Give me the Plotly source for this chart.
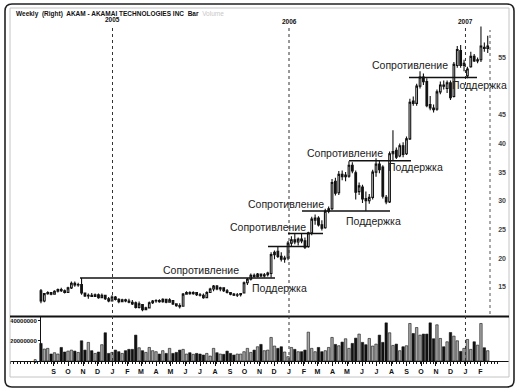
import plotly.graph_objects as go
import pandas as pd

# ---------------- data ----------------
first_week = "2004-08-06"

opens = [14.3, 12.5, 13.8, 14.0, 13.7, 14.2, 14.5, 14.3, 14.0, 14.8,
         15.6, 15.3, 15.4, 13.9, 13.4, 13.5, 13.3, 13.6, 13.1, 13.5,
         12.9, 12.5, 13.2, 12.8, 12.4, 12.7, 12.5, 12.3, 12.2, 11.4,
         11.9, 11.0, 11.3, 12.2, 12.5, 12.6, 12.4, 12.8, 12.3, 12.6,
         12.0, 11.7, 11.6, 13.7, 14.0, 13.8, 14.0, 13.6, 13.5, 13.1,
         14.0, 14.6, 15.1, 14.6, 14.8, 14.3, 14.0, 13.7, 13.5, 13.6,
         13.9, 15.7, 16.3, 17.0, 16.8, 17.2, 16.9, 17.1, 17.3, 20.6,
         21.2, 20.3, 19.8, 20.0, 22.6, 23.2, 22.8, 23.3, 23.0, 22.0,
         24.4, 26.6, 27.0, 25.8, 25.3, 28.2, 28.6, 33.4, 31.4, 34.6,
         34.2, 34.3, 36.2, 34.9, 31.6, 32.4, 30.4, 30.0, 30.6, 35.0,
         36.4, 35.9, 30.6, 29.8, 38.2, 38.8, 37.8, 39.6, 38.2, 40.8,
         47.4, 47.0, 50.0, 51.6, 50.8, 46.8, 46.2, 46.0, 49.0, 50.2,
         49.6, 50.6, 48.2, 53.6, 56.2, 53.6, 51.8, 53.4, 55.2, 54.4,
         54.6, 56.8, 56.6]
highs = [14.6, 13.9, 14.2, 14.1, 14.4, 14.7, 14.8, 14.5, 15.0, 15.9,
         15.9, 15.7, 16.5, 14.0, 13.8, 13.9, 13.8, 13.8, 13.8, 13.6,
         13.2, 13.5, 13.4, 13.0, 12.9, 12.9, 12.9, 12.7, 12.4, 12.4,
         12.0, 11.5, 12.4, 12.7, 12.8, 12.8, 13.0, 12.9, 13.0, 12.7,
         12.1, 12.1, 13.9, 14.2, 14.2, 14.2, 14.1, 13.9, 13.8, 14.2,
         14.8, 15.3, 15.3, 15.0, 14.9, 14.6, 14.1, 13.9, 13.9, 13.9,
         15.9, 16.5, 17.3, 17.3, 17.4, 17.3, 17.4, 17.6, 21.0, 21.3,
         22.0, 21.0, 20.4, 23.0, 23.8, 24.3, 23.6, 24.2, 23.6, 24.6,
         27.2, 27.6, 27.3, 26.6, 28.6, 29.0, 33.8, 34.0, 35.2, 35.3,
         35.0, 36.9, 36.7, 35.3, 33.2, 32.8, 31.6, 31.2, 35.4, 37.4,
         37.0, 36.2, 31.0, 38.6, 42.3, 39.3, 40.0, 40.2, 41.2, 47.8,
         48.2, 50.4, 52.6, 52.2, 51.4, 48.3, 46.8, 49.4, 50.8, 51.0,
         51.0, 51.0, 54.2, 57.0, 57.2, 54.6, 53.4, 56.0, 55.6, 55.0,
         60.4, 57.6, 58.8]
lows = [12.1, 12.3, 13.6, 13.5, 13.6, 14.0, 14.1, 13.8, 13.9, 14.6,
        15.0, 15.0, 13.6, 13.2, 12.9, 13.2, 13.2, 12.9, 13.0, 12.7,
        12.3, 12.5, 12.6, 12.1, 12.3, 12.3, 12.1, 11.8, 11.2, 11.2,
        10.7, 10.9, 11.2, 12.0, 12.2, 12.2, 12.2, 12.1, 12.2, 11.8,
        11.5, 11.2, 11.6, 13.6, 13.6, 13.6, 13.4, 13.3, 12.9, 13.0,
        13.9, 14.2, 14.4, 14.2, 14.1, 13.8, 13.5, 13.4, 13.2, 13.3,
        13.8, 15.3, 16.1, 16.6, 16.6, 16.7, 16.6, 16.8, 16.6, 19.8,
        20.0, 19.4, 19.2, 19.6, 22.0, 22.4, 22.2, 22.6, 21.6, 21.8,
        24.0, 25.8, 25.5, 24.8, 25.1, 27.8, 28.4, 30.9, 31.0, 33.6,
        33.4, 34.0, 34.8, 30.2, 31.0, 29.6, 28.2, 29.5, 30.2, 34.2,
        34.8, 30.4, 29.4, 29.6, 37.0, 37.3, 37.6, 37.6, 38.0, 40.6,
        46.6, 46.6, 49.6, 50.2, 46.3, 45.8, 45.4, 45.7, 48.6, 49.4,
        48.8, 47.6, 48.0, 53.2, 53.2, 52.6, 51.4, 53.2, 54.2, 54.0,
        54.2, 56.0, 55.8]
closes = [12.5, 13.8, 14.0, 13.7, 14.2, 14.5, 14.3, 14.0, 14.8, 15.6,
          15.3, 15.4, 13.9, 13.4, 13.5, 13.3, 13.6, 13.1, 13.5, 12.9,
          12.5, 13.2, 12.8, 12.4, 12.7, 12.5, 12.3, 12.0, 11.4, 12.0,
          11.0, 11.3, 12.2, 12.5, 12.6, 12.4, 12.8, 12.3, 12.7, 12.0,
          11.7, 11.5, 13.7, 14.0, 13.8, 14.0, 13.6, 13.5, 13.1, 14.0,
          14.6, 15.1, 14.6, 14.8, 14.3, 14.0, 13.7, 13.5, 13.6, 13.8,
          15.7, 16.3, 17.0, 16.8, 17.2, 16.9, 17.1, 17.4, 20.6, 21.0,
          20.3, 19.8, 20.0, 22.6, 23.2, 22.8, 23.3, 23.0, 21.9, 24.4,
          26.8, 27.0, 25.8, 25.2, 28.2, 28.6, 33.2, 31.3, 34.6, 34.2,
          34.5, 36.2, 35.2, 31.5, 32.6, 30.3, 30.0, 30.6, 35.0, 36.4,
          35.4, 30.8, 29.8, 38.2, 38.6, 37.6, 39.6, 38.1, 40.8, 47.2,
          47.0, 50.0, 51.6, 50.8, 46.6, 46.2, 45.9, 49.0, 50.2, 50.0,
          50.6, 48.0, 53.8, 56.4, 53.6, 54.0, 53.0, 55.2, 54.4, 54.6,
          57.0, 56.6, 57.0]
volume_millions = [17.4, 11.8, 12.5, 6.9, 8.2, 6.9, 13.4, 8.9, 9.8, 10.8,
                   9.8, 8.5, 20.0, 10.8, 18.4, 10.2, 7.5, 8.9, 16.1, 27.9,
                   7.5, 8.5, 10.8, 9.2, 7.5, 10.2, 11.5, 11.5, 25.6, 13.1,
                   10.2, 8.5, 13.4, 10.2, 9.2, 6.9, 10.2, 7.5, 12.5, 7.5,
                   8.5, 10.8, 11.5, 6.9, 8.2, 6.6, 7.5, 6.9, 5.9, 7.5,
                   4.9, 12.5, 8.2, 6.9, 6.6, 9.8, 7.5, 5.9, 6.9, 6.9,
                   9.2, 12.5, 8.5, 10.8, 14.1, 16.4, 10.2, 10.8, 23.3, 14.8,
                   12.5, 14.1, 8.9, 4.3, 13.4, 11.5, 9.2, 9.2, 10.8, 28.5,
                   12.5, 9.2, 13.4, 9.2, 10.2, 13.4, 23.3, 16.4, 15.1, 18.7,
                   22.0, 12.5, 17.4, 22.6, 26.6, 18.4, 16.1, 22.3, 14.8, 16.7,
                   25.6, 18.4, 37.7, 27.9, 15.4, 16.7, 10.2, 14.1, 15.1, 37.1,
                   27.2, 33.1, 25.6, 26.6, 26.6, 37.7, 22.0, 35.8, 22.3, 14.1,
                   19.0, 28.2, 24.6, 20.0, 9.5, 12.5, 21.3, 11.5, 19.0, 15.7,
                   37.1, 13.1, 10.2]

month_ticks = ["2004-09-01", "2004-10-01", "2004-11-01", "2004-12-01",
               "2005-01-01", "2005-02-01", "2005-03-01", "2005-04-01",
               "2005-05-01", "2005-06-01", "2005-07-01", "2005-08-01",
               "2005-09-01", "2005-10-01", "2005-11-01", "2005-12-01",
               "2006-01-01", "2006-02-01", "2006-03-01", "2006-04-01",
               "2006-05-01", "2006-06-01", "2006-07-01", "2006-08-01",
               "2006-09-01", "2006-10-01", "2006-11-01", "2006-12-01",
               "2007-01-01", "2007-02-01"]
month_labels = ["S", "O", "N", "D", "J", "F", "M", "A", "M", "J", "J", "A",
                "S", "O", "N", "D", "J", "F", "M", "A", "M", "J", "J", "A",
                "S", "O", "N", "D", "J", "F"]
year_dates = ["2005-01-01", "2006-01-01", "2007-01-01"]
year_labels = ["2005", "2006", "2007"]

price_ticks = [15, 20, 25, 30, 35, 40, 45, 55]
volume_ticks = [0, 20000000, 40000000]

# support / resistance levels (price)
sr_levels = [16.5, 22.0, 24.3, 28.2, 37.0, 51.5]
resistance_text = "Сопротивление"
support_text = "Поддержка"

# ---------------- geometry helpers ----------------
W, H = 520, 391
L, R, T, B = 10, 509, 8, 361


def px(x):
    return (x - L) / (R - L)


def py(y):
    return (B - y) / (B - T)


dates = pd.date_range(first_week, periods=len(closes), freq="7D")
volumes = [v * 1e6 for v in volume_millions]
vol_colors = ["#111111" if c < o else "#a8a8a8" for o, c in zip(opens, closes)]

fig = go.Figure()
fig.add_trace(go.Candlestick(
    x=dates, open=opens, high=highs, low=lows, close=closes,
    xaxis="x", yaxis="y",
    increasing=dict(line=dict(color="#111111", width=1.1), fillcolor="white"),
    decreasing=dict(line=dict(color="#111111", width=1.1), fillcolor="#111111"),
    whiskerwidth=0, showlegend=False, hoverinfo="skip"))
fig.add_trace(go.Bar(
    x=dates, y=volumes, xaxis="x", yaxis="y2",
    marker=dict(color=vol_colors, line=dict(color="#111111", width=0.6)),
    showlegend=False, hoverinfo="skip"))

x_start = dates[0] - pd.Timedelta(days=64)
x_end = dates[-1] + pd.Timedelta(days=44)

base_font = "Liberation Sans, Arial, sans-serif"

fig.update_layout(
    width=W, height=H,
    margin=dict(l=L, r=W - R, t=T, b=H - B, pad=0),
    paper_bgcolor="white", plot_bgcolor="white",
    showlegend=False, bargap=0.28,
    font=dict(family=base_font, color="#111111"),
    xaxis=dict(
        type="date", range=[x_start, x_end], domain=[0, 1], anchor="y2",
        tickvals=month_ticks, ticktext=month_labels,
        tickfont=dict(size=7, weight="bold", family=base_font),
        ticks="outside", ticklen=4, tickcolor="#111111", tickwidth=1,
        minor=dict(ticks="outside", ticklen=2, dtick=7 * 86400000,
                   tick0=first_week, tickcolor="#111111"),
        showline=True, linecolor="#111111", linewidth=1,
        showgrid=False, zeroline=False, rangeslider=dict(visible=False),
    ),
    yaxis=dict(
        domain=[py(316), 1], range=[9.89, 63.64], anchor="x", side="right",
        tickvals=price_ticks, ticklabelposition="inside",
        tickfont=dict(size=7, weight="bold", family=base_font),
        ticks="", showline=False, showgrid=False, zeroline=False,
    ),
    yaxis2=dict(
        domain=[0, py(317)], range=[0, 43.5e6], anchor="free",
        position=px(40), side="left",
        tickvals=volume_ticks, tickformat="d",
        tickfont=dict(size=6, weight="bold", family=base_font),
        ticks="outside", ticklen=2, tickcolor="#111111",
        showline=True, linecolor="#111111", linewidth=1,
        showgrid=False, zeroline=False,
    ),
)

shapes = []
# outer rounded frame
r = 7
x0, x1, y0, y1 = 5, 514, 4, 387
path = (f"M {px(x0 + r)} {py(y0)} L {px(x1 - r)} {py(y0)} "
        f"Q {px(x1)} {py(y0)} {px(x1)} {py(y0 + r)} "
        f"L {px(x1)} {py(y1 - r)} Q {px(x1)} {py(y1)} {px(x1 - r)} {py(y1)} "
        f"L {px(x0 + r)} {py(y1)} Q {px(x0)} {py(y1)} {px(x0)} {py(y1 - r)} "
        f"L {px(x0)} {py(y0 + r)} Q {px(x0)} {py(y0)} {px(x0 + r)} {py(y0)} Z")
shapes.append(dict(type="path", path=path, xref="paper", yref="paper",
                   line=dict(color="#222222", width=1.6)))
# inner light frame
shapes.append(dict(type="rect", xref="paper", yref="paper",
                   x0=px(10), x1=px(509), y0=py(377), y1=py(8),
                   line=dict(color="#c4c4c4", width=1)))
# separator between price and volume panes
shapes.append(dict(type="line", xref="paper", yref="paper",
                   x0=px(10), x1=px(509), y0=py(316.5), y1=py(316.5),
                   line=dict(color="#111111", width=2)))
# year separators
for d in year_dates:
    shapes.append(dict(type="line", xref="x", yref="paper", x0=d, x1=d,
                       y0=0, y1=py(27),
                       line=dict(color="#333333", width=1, dash="dot")))
# last-bar marker line
shapes.append(dict(type="line", xref="paper", yref="paper",
                   x0=px(490), x1=px(490), y0=py(314), y1=py(30),
                   line=dict(color="#555555", width=1, dash="dot")))
# support / resistance lines
sr_spans_px = [(80, 275), (268, 307), (288, 323), (302, 390), (349, 411), (409, 477)]
for lvl, (a, b) in zip(sr_levels, sr_spans_px):
    shapes.append(dict(type="line", xref="paper", yref="y",
                       x0=px(a), x1=px(b), y0=lvl, y1=lvl,
                       line=dict(color="#111111", width=1.5)))

annotations = []
annotations.append(dict(
    xref="paper", yref="paper", x=px(14), y=py(13.5), xanchor="left", yanchor="middle",
    showarrow=False,
    text="<b>Weekly  (Right)  AKAM - AKAMAI TECHNOLOGIES INC  Bar</b>  "
         "<span style='color:#c8c8c8'>Volume</span>",
    font=dict(size=6.5, family=base_font, color="#111111")))
year_label_y = [19.5, 21.5, 21.5]
for d, t, yy in zip(year_dates, year_labels, year_label_y):
    annotations.append(dict(xref="x", yref="paper", x=d, y=py(yy),
                            xanchor="center", yanchor="middle", showarrow=False,
                            text=f"<b>{t}</b>",
                            font=dict(size=6.5, family=base_font, color="#111111")))

text_positions = [
    (resistance_text, 201, 270),
    (support_text, 279, 287.5),
    (resistance_text, 268, 227),
    (resistance_text, 286, 204),
    (support_text, 373, 221),
    (resistance_text, 345, 153),
    (support_text, 415, 167),
    (resistance_text, 410, 65),
    (support_text, 479, 85),
]
for t, xx, yy in text_positions:
    annotations.append(dict(xref="paper", yref="paper", x=px(xx), y=py(yy),
                            xanchor="center", yanchor="middle", showarrow=False,
                            text=t, font=dict(size=10.5, family=base_font, color="#222222")))

fig.update_layout(shapes=shapes, annotations=annotations)
fig.write_html("out.html", config={"displayModeBar": False},
               post_script="document.body.style.margin='0';")
